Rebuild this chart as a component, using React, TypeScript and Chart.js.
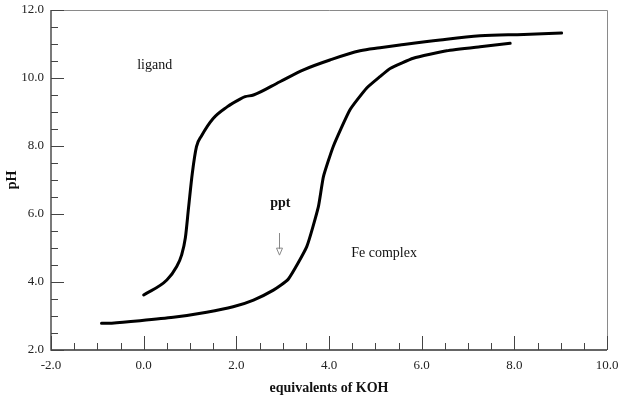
import React, { useEffect, useRef } from "react";
import { Chart, registerables } from "chart.js";

Chart.register(...registerables);

const ligandX = [0.0, 0.5, 0.71, 0.82, 0.9, 0.97, 1.05, 1.14, 1.25, 1.5, 1.8, 2.08, 2.19, 2.37, 2.94, 3.45, 4.02, 4.67, 5.1, 5.53, 6.4, 7.26, 8.2, 9.02];
const ligandPH = [3.62, 4.06, 4.45, 4.8, 5.3, 6.2, 7.2, 7.98, 8.3, 8.81, 9.15, 9.38, 9.45, 9.5, 9.89, 10.24, 10.53, 10.8, 10.89, 10.97, 11.12, 11.24, 11.28, 11.32];

const feX = [-0.91, -0.69, -0.08, 0.64, 1.36, 1.93, 2.37, 2.8, 3.12, 3.52, 3.77, 3.88, 4.09, 4.45, 4.81, 5.1, 5.32, 5.82, 6.54, 7.26, 7.91];
const fePH = [2.79, 2.79, 2.86, 2.96, 3.11, 3.27, 3.47, 3.76, 4.08, 5.04, 6.21, 7.1, 7.98, 9.06, 9.7, 10.04, 10.28, 10.58, 10.8, 10.92, 11.02];

const xMin = -2, xMax = 10, xStep = 2, xMinor = 0.5;
const yMin = 2, yMax = 12, yStep = 2, yMinor = 0.5;

const labels = [
  { text: "ligand", x: -0.14, y: 10.38, bold: false },
  { text: "ppt", x: 2.73, y: 6.32, bold: true },
  { text: "Fe complex", x: 4.48, y: 4.85, bold: false },
];
const arrow = { x: 2.92, y1: 5.44, y2: 4.79 };

const toPts = (xs: number[], ys: number[]) => xs.map((x, i) => ({ x, y: ys[i] }));

export default function App() {
  const ref = useRef<HTMLCanvasElement | null>(null);
  useEffect(() => {
    if (!ref.current) return;
    const decor = {
      id: "decor",
      afterDraw(chart: any) {
        const { ctx, chartArea: a, scales } = chart;
        const xs = scales.x, ys = scales.y;
        ctx.save();
        ctx.strokeStyle = "#8a8a8a";
        ctx.lineWidth = 1;
        ctx.beginPath();
        ctx.moveTo(a.left, a.top + 0.5);
        ctx.lineTo(a.right + 0.5, a.top + 0.5);
        ctx.lineTo(a.right + 0.5, a.bottom);
        ctx.stroke();
        ctx.strokeStyle = "#333";
        ctx.lineWidth = 1.3;
        ctx.beginPath();
        ctx.moveTo(a.left, a.top);
        ctx.lineTo(a.left, a.bottom);
        ctx.lineTo(a.right, a.bottom);
        ctx.stroke();
        ctx.lineWidth = 1;
        ctx.strokeStyle = "#444";
        ctx.beginPath();
        for (let v = xMin; v <= xMax + 1e-9; v += xMinor) {
          const p = Math.round(xs.getPixelForValue(v)) + 0.5;
          const major = Math.abs(v / xStep - Math.round(v / xStep)) < 1e-6;
          ctx.moveTo(p, a.bottom);
          ctx.lineTo(p, a.bottom - (major ? 14 : 7));
        }
        for (let v = yMin; v <= yMax + 1e-9; v += yMinor) {
          const p = Math.round(ys.getPixelForValue(v)) + 0.5;
          const major = Math.abs(v / yStep - Math.round(v / yStep)) < 1e-6;
          ctx.moveTo(a.left, p);
          ctx.lineTo(a.left + (major ? 13 : 7), p);
        }
        ctx.stroke();
        ctx.fillStyle = "#111";
        ctx.textBaseline = "middle";
        ctx.textAlign = "left";
        for (const l of labels) {
          ctx.font = (l.bold ? "bold " : "") + "14px 'Liberation Serif'";
          ctx.fillText(l.text, xs.getPixelForValue(l.x), ys.getPixelForValue(l.y));
        }
        const ax = Math.round(xs.getPixelForValue(arrow.x)) + 0.5;
        const ay1 = ys.getPixelForValue(arrow.y1);
        const ay2 = ys.getPixelForValue(arrow.y2);
        ctx.strokeStyle = "#888";
        ctx.lineWidth = 1;
        ctx.beginPath();
        ctx.moveTo(ax, ay1);
        ctx.lineTo(ax, ay2 - 6);
        ctx.stroke();
        ctx.beginPath();
        ctx.moveTo(ax - 3, ay2 - 7);
        ctx.lineTo(ax + 3, ay2 - 7);
        ctx.lineTo(ax, ay2);
        ctx.closePath();
        ctx.stroke();
        ctx.restore();
      },
    };
    const zeroPad = (s: any) => {
      s.paddingTop = 0;
      s.paddingBottom = 0;
      s.paddingLeft = 0;
      s.paddingRight = 0;
    };
    const chart = new Chart(ref.current, {
      type: "scatter",
      data: {
        datasets: [
          {
            label: "ligand",
            data: toPts(ligandX, ligandPH),
            showLine: true,
            borderColor: "#000",
            borderWidth: 3,
            pointRadius: 0,
            cubicInterpolationMode: "monotone",
            borderCapStyle: "round",
            borderJoinStyle: "round",
          },
          {
            label: "Fe complex",
            data: toPts(feX, fePH),
            showLine: true,
            borderColor: "#000",
            borderWidth: 3,
            pointRadius: 0,
            tension: 0.15,
            borderCapStyle: "round",
            borderJoinStyle: "round",
          },
        ],
      },
      options: {
        animation: false,
        responsive: false,
        events: [],
        layout: { padding: { top: 10, right: 17, left: 0, bottom: 0 } },
        plugins: { legend: { display: false }, tooltip: { enabled: false } },
        scales: {
          x: {
            type: "linear",
            min: xMin,
            max: xMax,
            border: { display: false },
            grid: { display: false, drawTicks: false },
            ticks: {
              stepSize: xStep,
              padding: 8,
              color: "#222",
              font: { family: "'Liberation Serif'", size: 13 },
              callback: (v: any) => Number(v).toFixed(1),
              maxRotation: 0,
            },
            title: {
              display: true,
              text: "equivalents of KOH",
              color: "#111",
              font: { family: "'Liberation Serif'", size: 14, weight: "bold" },
              padding: { top: 4, bottom: 4 },
            },
            afterFit: (s: any) => { s.height = 51; zeroPad(s); },
          },
          y: {
            type: "linear",
            min: yMin,
            max: yMax,
            border: { display: false },
            grid: { display: false, drawTicks: false },
            ticks: {
              stepSize: yStep,
              padding: 7,
              color: "#222",
              font: { family: "'Liberation Serif'", size: 13 },
              callback: (v: any) => Number(v).toFixed(1),
            },
            title: {
              display: true,
              text: "pH",
              color: "#111",
              font: { family: "'Liberation Serif'", size: 14, weight: "bold" },
              padding: { top: 4, bottom: 4 },
            },
            afterFit: (s: any) => { s.width = 51; zeroPad(s); },
          },
        },
      },
      plugins: [decor],
    });
    return () => chart.destroy();
  }, []);
  return (
    <div style={{ position: "fixed", left: 0, top: 0, width: 624, height: 401, background: "#fff" }}>
      <canvas ref={ref} width={624} height={401} style={{ display: "block" }} />
    </div>
  );
}
